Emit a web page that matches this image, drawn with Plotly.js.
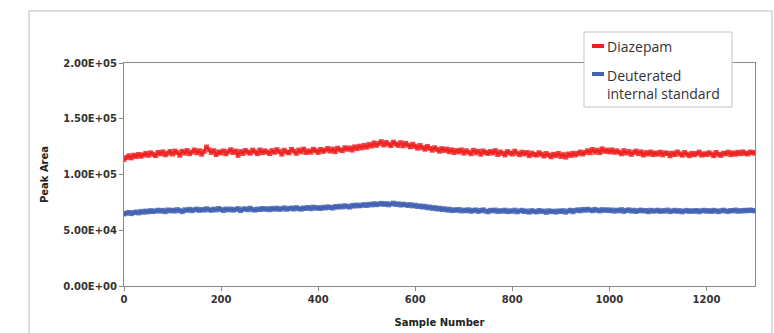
<!DOCTYPE html>
<html>
<head>
<meta charset="utf-8">
<script src="https://cdn.plot.ly/plotly-3.0.1.min.js"></script>
<style>
  html, body { margin: 0; padding: 0; background: #ffffff; }
  #chart { width: 774px; height: 333px; }
</style>
</head>
<body>
<div id="chart"></div>
<script>
// Sample spacing of the read-off points (every 5th sample), 0..1300
var sampleStep = 5;

// Diazepam peak area, in thousands, read every 5 samples (0..1300)
var diazepamK = [
  113.5,115.2,116.8,114.9,117.3,116.1,118.0,116.4,117.6,118.9,117.2,119.4,118.1,116.9,119.8,118.6,120.3,117.7,119.1,120.6,
  118.4,121.0,119.6,117.3,120.8,119.2,121.5,118.7,120.1,122.0,119.5,121.3,118.2,120.7,124.6,122.1,119.8,121.4,117.9,120.2,
  119.3,121.1,118.6,120.4,122.2,119.7,121.0,117.2,120.5,118.9,121.6,120.0,119.1,121.8,120.3,118.7,122.0,119.6,121.2,120.1,
  118.8,121.4,119.9,122.3,120.6,118.3,121.7,120.2,119.4,122.5,120.9,119.0,121.9,120.4,122.8,119.7,121.1,120.0,122.6,121.3,
  119.8,122.4,120.7,121.9,123.3,121.0,122.7,120.5,123.6,122.1,121.4,124.0,122.6,123.8,121.9,124.7,123.2,125.4,123.9,126.1,
  124.5,127.0,125.6,128.3,126.2,127.8,129.4,126.5,128.7,127.2,125.9,129.0,127.4,126.1,128.5,125.7,127.9,126.3,124.8,127.1,
  125.2,123.6,126.0,124.1,122.7,125.1,123.4,121.8,124.0,122.5,120.9,123.2,121.6,122.8,120.4,122.1,119.7,121.5,120.3,122.0,
  119.2,121.3,120.0,118.6,121.7,119.5,120.8,118.2,121.1,119.8,118.9,120.6,119.3,121.4,118.0,120.2,119.0,117.6,120.5,119.4,
  118.3,120.9,119.1,117.8,120.0,118.5,119.7,116.9,119.2,118.0,117.4,119.5,118.2,116.6,118.8,117.3,115.9,118.1,117.0,118.9,
  116.2,117.8,115.6,118.4,117.1,119.0,117.6,118.9,120.2,118.4,119.7,121.3,119.5,122.4,120.1,121.8,119.6,123.0,120.8,121.9,
  120.3,122.1,119.9,121.2,120.0,118.6,121.4,119.2,120.6,118.1,119.8,121.0,118.7,120.3,117.5,119.6,118.4,120.1,117.9,119.3,
  118.2,120.0,117.6,119.4,118.9,116.8,119.1,117.9,120.2,118.5,117.3,119.7,118.1,116.9,119.0,117.7,118.8,120.1,117.4,118.6,
  117.9,119.5,118.3,116.9,119.8,118.0,117.2,119.1,118.6,120.0,117.8,119.4,118.2,119.9,118.7,120.3,119.0,118.4,120.1,119.5,
  119.2
];

// Deuterated internal standard peak area, in thousands, every 5 samples (0..1300)
var internalStdK = [
  64.6,65.3,66.0,64.9,65.8,66.4,65.5,66.9,66.1,67.2,66.5,67.6,66.8,67.3,68.0,67.1,67.8,66.6,68.2,67.4,
  68.0,67.2,68.5,67.6,66.7,68.3,67.9,68.8,67.5,68.4,69.0,67.8,68.6,68.1,69.3,68.4,67.9,68.9,68.2,69.5,
  68.6,67.7,69.1,68.3,69.0,68.0,68.7,69.4,67.6,68.9,69.2,68.4,69.7,68.5,68.1,69.0,68.6,69.5,68.8,69.3,
  68.4,69.6,68.9,69.8,68.7,69.2,70.1,68.8,69.5,69.9,69.0,70.3,69.4,68.9,70.0,69.6,70.4,69.3,70.7,69.8,
  70.2,69.5,70.6,70.0,71.0,70.4,69.9,71.3,70.7,71.6,70.9,72.0,71.4,70.8,72.3,71.7,72.6,71.9,72.4,73.0,
  72.2,73.3,72.7,73.8,72.9,73.5,74.1,73.2,73.9,72.8,73.6,74.3,73.1,73.7,72.6,73.4,72.9,72.2,73.0,71.8,
  72.5,71.3,71.9,70.8,71.5,70.2,70.9,69.6,70.3,69.0,69.8,68.6,69.3,68.1,68.9,67.6,68.4,67.9,68.6,67.3,
  68.1,67.5,68.4,67.0,67.8,68.2,66.9,67.7,68.3,67.2,66.6,67.9,67.4,68.1,66.8,67.6,67.1,68.0,66.7,67.5,
  67.0,68.0,66.5,67.4,67.9,66.8,67.3,66.2,67.6,67.0,66.4,67.7,66.9,67.2,66.0,67.5,66.7,67.1,66.3,67.4,
  66.8,67.6,66.2,67.3,67.9,66.6,67.8,68.3,67.4,68.6,67.9,68.9,68.2,67.5,68.7,68.0,67.3,68.5,67.8,68.4,
  67.6,68.2,67.1,68.0,67.4,68.5,66.9,67.8,68.3,67.2,67.9,66.8,67.6,68.1,67.3,67.7,66.6,67.9,67.1,67.5,
  68.0,66.9,67.6,67.2,68.1,66.7,67.4,67.9,67.0,67.6,66.5,67.3,67.8,66.9,67.5,67.0,67.7,66.6,67.4,67.9,
  67.1,67.6,66.8,67.9,67.3,66.7,67.5,68.0,67.2,66.9,67.7,67.4,68.1,67.0,67.6,67.3,67.9,67.5,68.2,67.7,
  67.4
];

var seriesNames = ["Diazepam", "Deuterated internal standard"];
var legendLabels = ["Diazepam", "Deuterated<br>internal standard"];
var xTickVals = [0, 200, 400, 600, 800, 1000, 1200];
var yTickVals = [0, 50000, 100000, 150000, 200000];
var yTickText = ["0.00E+00", "5.00E+04", "1.00E+05", "1.50E+05", "2.00E+05"];

var colRed = "#ee2222";
var colBlue = "#4463b3";

var samples = diazepamK.map(function (_, i) { return i * sampleStep; });
var diazepam = diazepamK.map(function (v) { return v * 1000; });
var internalStd = internalStdK.map(function (v) { return v * 1000; });

function mkTrace(name, y, col) {
  return {
    type: "scatter", mode: "lines+markers", name: name,
    x: samples, y: y,
    line: { color: col, width: 2 },
    marker: { color: col, size: 5, symbol: "square", opacity: 0.85, line: { width: 0 } },
    showlegend: false, hoverinfo: "x+y"
  };
}

var data = [
  mkTrace(seriesNames[0], diazepam, colRed),
  mkTrace(seriesNames[1], internalStd, colBlue)
];

// geometry of plot area in pixels
var L = 124, R = 755, T = 63, B = 286;
function px(x) { return (x - L) / (R - L); }
function py(y) { return (B - y) / (B - T); }

var tickFont = { family: "DejaVu Sans, Arial, sans-serif", size: 10, weight: "bold", color: "#333" };
var titleFont = { family: "DejaVu Sans, Arial, sans-serif", size: 10, weight: "bold", color: "#222" };
var legFont = { family: "Open Sans, Liberation Sans, Arial, sans-serif", size: 14, color: "#333" };

var layout = {
  width: 774, height: 333,
  margin: { l: L, r: 774 - R, t: T, b: 333 - B, pad: 0 },
  paper_bgcolor: "#ffffff", plot_bgcolor: "#ffffff",
  showlegend: false,
  font: { family: "DejaVu Sans, Arial, sans-serif", color: "#222" },
  xaxis: {
    range: [0, 1300], tickvals: xTickVals,
    showgrid: false, zeroline: false,
    showline: true, linecolor: "#8a8a8a", linewidth: 1, mirror: true,
    ticks: "outside", ticklen: 4, tickcolor: "#8a8a8a",
    tickfont: tickFont,
    title: { text: "Sample Number", font: titleFont, standoff: 14 }
  },
  yaxis: {
    range: [0, 200000], tickvals: yTickVals, ticktext: yTickText,
    showgrid: false, zeroline: false,
    showline: true, linecolor: "#8a8a8a", linewidth: 1, mirror: true,
    ticks: "outside", ticklen: 4, tickcolor: "#8a8a8a",
    tickfont: tickFont,
    title: { text: "Peak Area", font: titleFont, standoff: 12 }
  },
  shapes: [
    // outer chart frame
    { type: "rect", xref: "paper", yref: "paper",
      x0: px(29), x1: px(772), y0: py(345), y1: py(11),
      line: { color: "#bdbdbd", width: 1 }, fillcolor: "rgba(0,0,0,0)", layer: "below" },
    // legend box
    { type: "rect", xref: "paper", yref: "paper",
      x0: px(584), x1: px(732), y0: py(107), y1: py(32),
      line: { color: "#c4c4c4", width: 1 }, fillcolor: "#ffffff", layer: "above" },
    // legend swatches
    { type: "line", xref: "paper", yref: "paper",
      x0: px(592), x1: px(604), y0: py(46), y1: py(46),
      line: { color: colRed, width: 4 } },
    { type: "line", xref: "paper", yref: "paper",
      x0: px(592), x1: px(604), y0: py(74), y1: py(74),
      line: { color: colBlue, width: 4 } }
  ],
  annotations: [
    { xref: "paper", yref: "paper", x: px(605), y: py(46), xanchor: "left", yanchor: "middle",
      text: legendLabels[0], showarrow: false, align: "left", font: legFont },
    { xref: "paper", yref: "paper", x: px(605), y: py(84.5), xanchor: "left", yanchor: "middle",
      text: legendLabels[1], showarrow: false, align: "left", font: legFont }
  ]
};

Plotly.newPlot("chart", data, layout, { displayModeBar: false, staticPlot: true });
</script>
</body>
</html>
